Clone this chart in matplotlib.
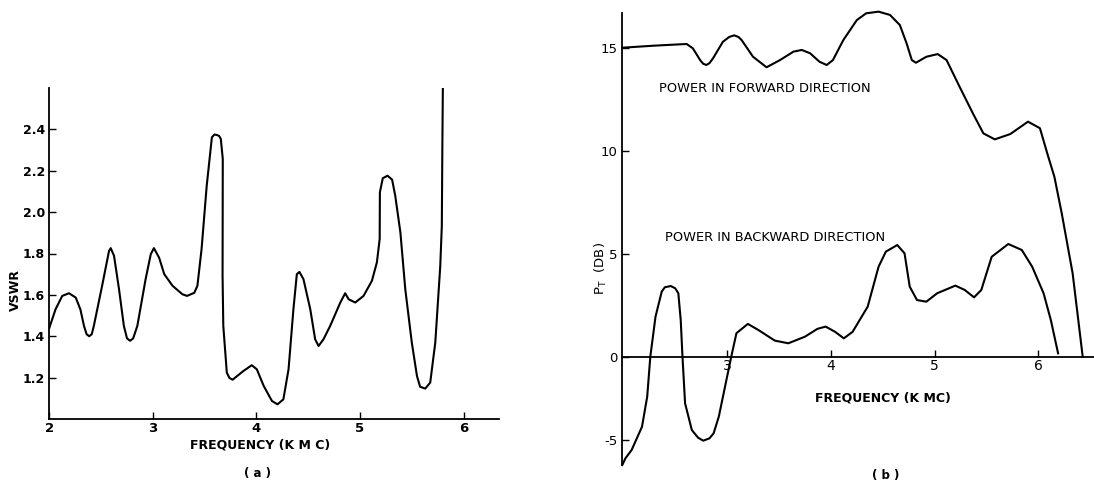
import numpy as np
import matplotlib
matplotlib.use("Agg")
import matplotlib.pyplot as plt
from matplotlib.ticker import NullLocator

# (a) VSWR vs frequency (KMC)
freq_a = [2.0, 2.06, 2.125, 2.19, 2.255, 2.30, 2.335, 2.36, 2.385, 2.41, 2.43, 2.51, 2.577,
          2.593, 2.625, 2.673, 2.72, 2.75, 2.78, 2.81, 2.85, 2.93, 2.98, 3.01, 3.06, 3.11,
          3.19, 3.285, 3.33, 3.40, 3.43, 3.47, 3.52, 3.57, 3.595, 3.617, 3.64, 3.656, 3.675,
          3.673, 3.68, 3.714, 3.74, 3.77, 3.874, 3.955, 4.004, 4.07, 4.15, 4.203, 4.26, 4.31,
          4.357, 4.39, 4.415, 4.454, 4.52, 4.567, 4.60, 4.647, 4.712, 4.81, 4.857, 4.89,
          4.954, 5.034, 5.115, 5.163, 5.19, 5.192, 5.22, 5.266, 5.31, 5.34, 5.39, 5.437,
          5.50, 5.55, 5.58, 5.63, 5.678, 5.727, 5.775, 5.79, 5.795, 5.80]
vswr = [1.44, 1.53, 1.595, 1.608, 1.587, 1.53, 1.45, 1.41, 1.40, 1.41, 1.45, 1.644, 1.813,
        1.826, 1.789, 1.628, 1.45, 1.39, 1.378, 1.39, 1.45, 1.676, 1.797, 1.826, 1.78, 1.70,
        1.644, 1.603, 1.595, 1.61, 1.644, 1.82, 2.128, 2.362, 2.375, 2.373, 2.368, 2.354, 2.257,
        1.69, 1.45, 1.224, 1.198, 1.19, 1.232, 1.26, 1.24, 1.16, 1.087, 1.071, 1.095, 1.24,
        1.53, 1.70, 1.711, 1.676, 1.53, 1.385, 1.353, 1.385, 1.45, 1.563, 1.608, 1.579,
        1.563, 1.595, 1.668, 1.757, 1.87, 2.096, 2.164, 2.176, 2.157, 2.08, 1.902, 1.628,
        1.37, 1.208, 1.156, 1.147, 1.176, 1.37, 1.74, 1.934, 2.306, 2.60]

# (b) transmitted power P_T (DB), forward direction
freq_fwd = [1.99, 2.3, 2.61, 2.67, 2.74, 2.77, 2.80, 2.83, 2.865, 2.96, 3.02, 3.068, 3.11,
            3.14, 3.25, 3.38, 3.51, 3.64, 3.72, 3.80, 3.89, 3.96, 4.02, 4.12, 4.25, 4.34,
            4.46, 4.57, 4.665, 4.73, 4.78, 4.82, 4.92, 5.03, 5.115, 5.24, 5.37, 5.47, 5.58,
            5.73, 5.90, 6.015, 6.095, 6.154, 6.225, 6.33, 6.40, 6.427]
p_fwd = [15.0, 15.1, 15.18, 14.97, 14.40, 14.22, 14.16, 14.25, 14.49, 15.29, 15.52, 15.60, 15.52,
         15.37, 14.56, 14.05, 14.40, 14.81, 14.89, 14.73, 14.32, 14.16, 14.40, 15.37, 16.34, 16.67,
         16.75, 16.59, 16.10, 15.21, 14.40, 14.27, 14.56, 14.69, 14.40, 13.11, 11.8, 10.84, 10.55,
         10.81, 11.41, 11.09, 9.71, 8.74, 6.96, 4.05, 1.13, 0.0]

# backward direction
freq_bwd = [1.99, 2.02, 2.08, 2.18, 2.23, 2.26, 2.31, 2.37, 2.40, 2.457, 2.50, 2.53, 2.553,
            2.57, 2.595, 2.66, 2.72, 2.77, 2.83, 2.87, 2.92, 3.0, 3.04, 3.09, 3.20, 3.30,
            3.46, 3.59, 3.75, 3.87, 3.95, 4.04, 4.125, 4.21, 4.355, 4.46, 4.53, 4.64, 4.71,
            4.76, 4.83, 4.92, 5.025, 5.20, 5.29, 5.38, 5.45, 5.55, 5.71, 5.84, 5.94, 6.05,
            6.12, 6.19]
p_bwd = [-6.5, -6.1, -5.6, -4.2, -2.4, 0.0, 1.94, 3.16, 3.37, 3.43, 3.32, 3.08, 1.78,
         0.0, -2.8, -4.4, -4.86, -5.04, -4.9, -4.6, -3.6, -1.2, 0.0, 1.14, 1.59, 1.30,
         0.78, 0.65, 0.97, 1.35, 1.46, 1.21, 0.89, 1.21, 2.43, 4.37, 5.10, 5.42, 5.02,
         3.40, 2.75, 2.67, 3.08, 3.45, 3.24, 2.88, 3.24, 4.85, 5.47, 5.18, 4.37, 3.08,
         1.78, 0.16]

xticks_a = [2, 3, 4, 5, 6]
yticks_a = [1.2, 1.4, 1.6, 1.8, 2.0, 2.2, 2.4]
xticks_b = [3, 4, 5, 6]
yticks_b = [-5, 0, 5, 10, 15]

plt.rcParams['font.family'] = ['DejaVu Sans']
fig = plt.figure(figsize=(10.94, 4.84), dpi=100)
W, H = 1094.0, 484.0

# ---- panel (a)
ax1 = fig.add_axes([49.3 / W, 1 - 419 / H, 450 / W, 331 / H])
ax1.plot(freq_a, vswr, color='black', lw=1.5, solid_joinstyle='round')
ax1.set_xlim(2, 6.345)
ax1.set_ylim(1.0, 2.6)
ax1.set_xticks(xticks_a)
ax1.set_xticklabels([str(t) for t in xticks_a], fontweight='bold', fontsize=9.5)
ax1.set_yticks(yticks_a)
ax1.set_yticklabels(["%.1f" % t for t in yticks_a], fontweight='bold', fontsize=9)
ax1.tick_params(direction='in', length=5, width=1.0, pad=3)
ax1.tick_params(axis='x', pad=2)
for s in ['top', 'right']:
    ax1.spines[s].set_visible(False)
for s in ['left', 'bottom']:
    ax1.spines[s].set_linewidth(1.3)
fig.text(260 / W, 1 - 445 / H, "FREQUENCY (K M C)", ha='center', va='center',
         fontweight='bold', fontsize=9)
fig.text(15 / W, 1 - 290 / H, "VSWR", ha='center', va='center', rotation=90,
         fontweight='bold', fontsize=9)
fig.text(258 / W, 1 - 473 / H, "( a )", ha='center', va='center', fontweight='bold', fontsize=8.5)

# ---- panel (b): the negative half of the hand-drawn axis is compressed
neg = 0.809
def fwd(v):
    v = np.asarray(v, dtype=float)
    return np.where(v < 0, v * neg, v)
def inv(u):
    u = np.asarray(u, dtype=float)
    return np.where(u < 0, u / neg, u)

ax2 = fig.add_axes([622.3 / W, 1 - 465 / H, (W - 622.3) / W, 451.7 / H])
ax2.set_yscale('function', functions=(fwd, inv))
ax2.plot(freq_fwd, p_fwd, color='black', lw=1.5, solid_joinstyle='round', clip_on=False)
ax2.plot(freq_bwd, p_bwd, color='black', lw=1.5, solid_joinstyle='round', clip_on=False)
ax2.set_xlim(1.99, 6.536)
ax2.set_ylim(-6.5, 16.67)
ax2.set_xticks(xticks_b)
ax2.set_xticklabels([str(t) for t in xticks_b], fontweight='bold', fontsize=9.5)
ax2.set_yticks(yticks_b)
ax2.set_yticklabels([str(t) for t in yticks_b], fontsize=9.5)
ax2.yaxis.set_minor_locator(NullLocator())
ax2.tick_params(direction='in', length=5, width=1.0)
ax2.tick_params(axis='x', pad=2)
ax2.spines['bottom'].set_position(('data', 0))
for s in ['top', 'right']:
    ax2.spines[s].set_visible(False)
for s in ['left', 'bottom']:
    ax2.spines[s].set_linewidth(1.3)
fig.text(601 / W, 1 - 268 / H, "P$_\\mathregular{T}$  (DB)", ha='center', va='center',
         rotation=90, fontsize=9.5)
ax2.text(4.50, -2.48, "FREQUENCY (K MC)", ha='center', va='center', fontweight='bold', fontsize=9)
ax2.text(2.34, 13.0, "POWER IN FORWARD DIRECTION", ha='left', va='center', fontsize=9.4)
ax2.text(2.40, 5.8, "POWER IN BACKWARD DIRECTION", ha='left', va='center', fontsize=9.4)
fig.text(886 / W, 1 - 475 / H, "( b )", ha='center', va='center', fontweight='bold', fontsize=8.5)

fig.savefig("out.png", dpi=100)
